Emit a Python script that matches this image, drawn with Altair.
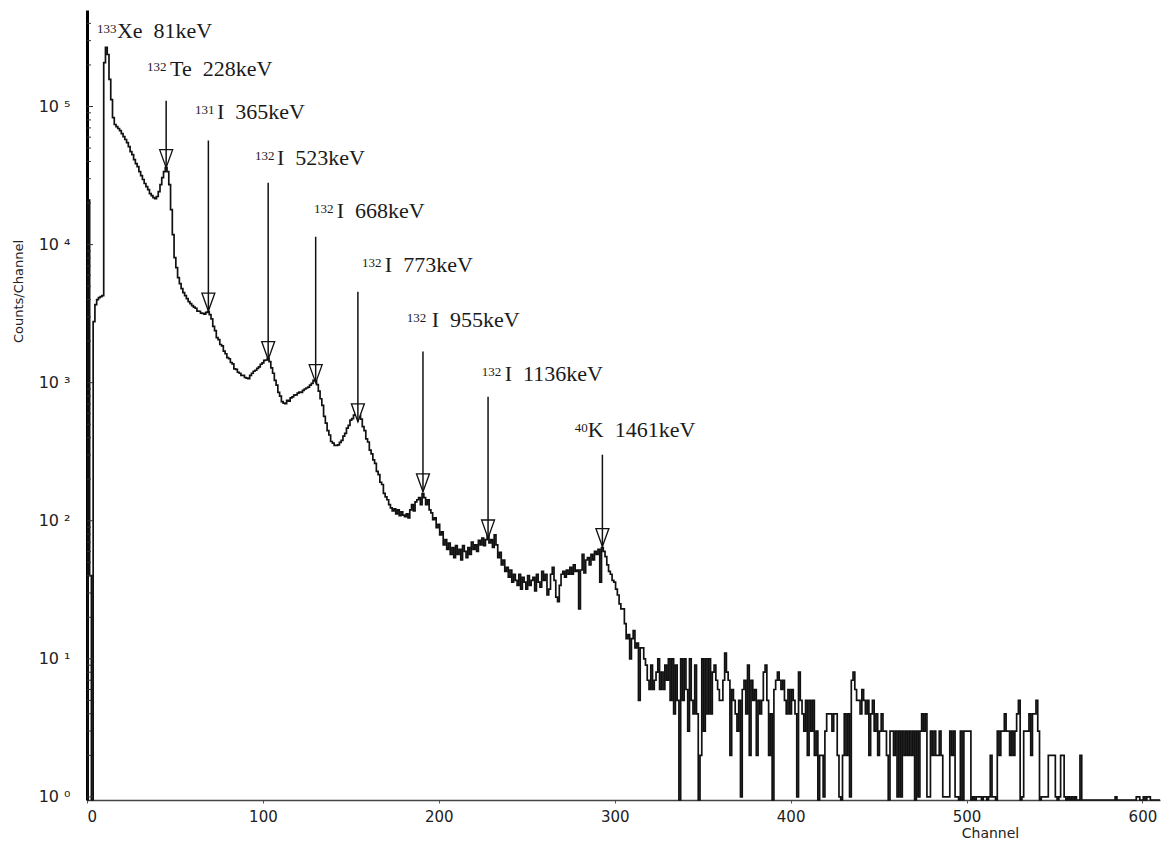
import altair as alt
import pandas as pd

# ---- spectrum counts per channel ----
counts_000 = [0, 21000, 40, 0, 2770, 3670, 3990, 4130, 4200, 4270,
              208000, 268000, 238000, 157000, 112000, 83200, 74100, 71600, 69300, 67000,
              63700, 60600, 57700, 54800, 51300, 47200, 44900, 41300, 38600, 36700,
              33800, 31600, 29600, 27700, 26300, 25000, 23400, 22600, 21900, 21500,
              22300, 24200, 27200, 30600, 33800, 36100, 33800, 27200, 17900, 11800,
              8050, 6810, 5770, 5210, 4800, 4490, 4270, 4060, 3860, 3740,
              3610, 3520, 3460, 3300, 3290, 3190, 3180, 3140, 3230, 3270,
              3110, 2900, 2560, 2380, 2120, 2050, 1890, 1850, 1690, 1620,
              1520, 1490, 1400, 1370, 1260, 1250, 1190, 1170, 1130, 1130,
              1090, 1080, 1070, 1130, 1170, 1210, 1230, 1270, 1300, 1360]
counts_100 = [1390, 1450, 1460, 1500, 1420, 1280, 1170, 1040, 960, 850,
              800, 730, 712, 705, 745, 735, 775, 790, 812, 815,
              840, 855, 850, 880, 900, 915, 930, 960, 990, 1040,
              1030, 968, 870, 765, 685, 570, 510, 450, 418, 375,
              365, 352, 351, 354, 370, 382, 410, 430, 468, 490,
              535, 550, 582, 590, 610, 580, 545, 480, 450, 392,
              372, 325, 305, 276, 260, 228, 216, 190, 183, 158,
              149, 142, 131, 124, 118, 122, 112, 120, 109, 116,
              110, 107, 112, 105, 120, 131, 118, 137, 142, 147,
              131, 157, 147, 131, 142, 120, 114, 102, 105, 89]
counts_200 = [94, 79, 83, 67, 73, 62, 69, 57, 64, 54,
              66, 57, 62, 52, 66, 60, 54, 64, 57, 70,
              62, 67, 60, 72, 67, 75, 66, 73, 78, 69,
              73, 64, 79, 67, 54, 59, 48, 52, 43, 46,
              39, 44, 36, 41, 37, 34, 41, 32, 39, 36,
              32, 40, 34, 37, 39, 31, 41, 36, 33, 43,
              37, 41, 29, 32, 41, 46, 37, 28, 26, 34,
              41, 43, 39, 44, 41, 46, 41, 48, 43, 44,
              23, 44, 57, 42, 52, 54, 48, 57, 52, 60,
              57, 62, 36, 64, 60, 55, 48, 43, 41, 37]
counts_300 = [36, 32, 29, 25, 23, 23, 18, 14, 15, 10,
              14, 16, 12, 13, 5, 12, 12, 10, 9, 7,
              6, 9, 6, 7, 8, 10, 6, 8, 6, 9,
              7, 10, 5, 10, 4, 9, 5, 0, 10, 5,
              10, 6, 3, 10, 5, 4, 9, 4, 0, 2,
              10, 3, 10, 4, 10, 4, 8, 9, 7, 6,
              5, 5, 7, 11, 8, 7, 2, 6, 5, 4,
              3, 5, 1, 6, 7, 4, 9, 2, 7, 5,
              6, 2, 5, 4, 5, 8, 9, 5, 2, 4,
              0, 6, 7, 8, 7, 6, 7, 5, 4, 6]
counts_400 = [4, 6, 5, 4, 1, 8, 5, 4, 3, 5,
              2, 5, 3, 5, 2, 3, 0, 2, 2, 1,
              3, 4, 4, 4, 3, 4, 4, 2, 1, 0,
              2, 4, 2, 4, 1, 7, 8, 6, 5, 5,
              4, 6, 5, 4, 5, 2, 4, 5, 3, 4,
              2, 3, 4, 3, 3, 2, 0, 3, 3, 2,
              3, 1, 3, 1, 3, 2, 3, 2, 3, 2,
              3, 0, 3, 1, 3, 4, 3, 4, 1, 1,
              3, 2, 3, 2, 2, 3, 2, 1, 1, 1,
              1, 3, 2, 3, 1, 1, 0, 3, 0, 3]
counts_500 = [3, 3, 3, 0, 1, 0, 1, 1, 1, 0,
              1, 1, 0, 1, 2, 1, 1, 0, 3, 2,
              3, 3, 4, 3, 3, 2, 3, 2, 3, 4,
              5, 0, 1, 3, 3, 3, 4, 2, 4, 4,
              5, 3, 0, 1, 1, 1, 1, 2, 2, 2,
              2, 1, 0, 1, 2, 2, 1, 0, 1, 0,
              1, 0, 1, 0, 0, 2, 0, 0, 0, 0,
              0, 0, 0, 0, 0, 0, 0, 0, 0, 0,
              0, 0, 0, 0, 0, 1, 0, 0, 0, 0,
              0, 0, 0, 0, 0, 0, 0, 1, 1, 0]
counts_600 = [0, 1, 0, 1, 1, 0, 0, 0, 0, 0, 0]

counts = counts_000 + counts_100 + counts_200 + counts_300 + counts_400 + counts_500 + counts_600
channels = list(range(len(counts)))

# ---- annotated peaks ----
peak_channel = [45, 69, 103, 130, 154, 191, 228, 293]
peak_counts = [36100, 3300, 1470, 1000, 521, 162, 75, 65]
arrow_top = [110000, 56700, 28100, 11400, 4560, 1680, 792, 301]

NB = "\u00a0"
label_mass = ["133", "132", "131", "132", "132", "132", "132", "132", "40"]
label_text = ["Xe" + NB + NB + "81keV", "Te" + NB + NB + "228keV", "I" + NB + NB + "365keV",
              "I" + NB + NB + "523keV", "I" + NB + NB + "668keV", "I" + NB + NB + "773keV",
              "I" + NB + NB + "955keV", "I" + NB + NB + "1136keV", "K" + NB + NB + "1461keV"]
mass_channel = [5.7, 34.1, 61.4, 95.5, 129.0, 156.3, 181.8, 224.4, 277.3]
text_channel = [17.0, 47.2, 73.9, 108.0, 142.0, 169.3, 196.0, 237.5, 284.7]
text_counts = [316000, 165000, 81800, 38000, 15700, 6370, 2550, 1020, 406]

# ---- axis tick values ----
major_ticks = [1, 10, 100, 1000, 10000, 100000]
minor_ticks = [m * d for d in [1, 10, 100, 1000, 10000, 100000] for m in range(2, 10) if m * d < 500000]

spec = pd.DataFrame({"channel": channels, "counts": counts})
spec["shown"] = spec["counts"].clip(lower=0.95)
peaks = pd.DataFrame({"channel": peak_channel, "shown": peak_counts, "top": arrow_top})
labels = pd.DataFrame({"mass": label_mass, "text": label_text, "mch": mass_channel,
                       "channel": text_channel, "shown": text_counts})
ticks = pd.DataFrame({"shown": minor_ticks})
majors = pd.DataFrame({"shown": major_ticks})

xs = alt.Scale(domain=[0, 610], nice=False, zero=False)
ys = alt.Scale(type="log", domain=[0.95, 500000], nice=False)

sup_expr = "'10 ' + ['\u2070','\u00b9','\u00b2','\u00b3','\u2074','\u2075'][round(log(datum.value)/LN10)]"

x_axis = alt.Axis(values=[0, 100, 200, 300, 400, 500, 600], title="Channel", grid=False,
                  domainColor="#444444", domainWidth=1.5, tickColor="#555555", tickSize=3,
                  labelFont="DejaVu Sans", labelFontSize=15, labelColor="#222222",
                  labelPadding=6, titleFont="DejaVu Sans", titleFontSize=14,
                  titleFontWeight="normal", titleColor="#222222",
                  titleX=903, titleY=37, titleAlign="center", titleBaseline="alphabetic")
y_axis = alt.Axis(values=major_ticks, labelExpr=sup_expr, title="Counts/Channel", grid=False,
                  ticks=False, labelPadding=17, domainColor="#000000", domainWidth=3,
                  labelFont="DejaVu Sans", labelFontSize=16, labelColor="#222222",
                  titleFont="DejaVu Sans", titleFontSize=13, titleFontWeight="normal",
                  titleColor="#222222", titleAngle=270, titleX=-69, titleY=281,
                  titleAlign="center", titleBaseline="middle")

X = alt.X("channel:Q", scale=xs, axis=x_axis, title="Channel")
Y = alt.Y("shown:Q", scale=ys, axis=y_axis, title="Counts/Channel")

spectrum = alt.Chart(spec).mark_line(color="#111111", strokeWidth=1.7, interpolate="step").encode(
    x=X, y=Y)

minor_rules = alt.Chart(ticks).mark_rule(color="#333333", strokeWidth=1).encode(
    x=alt.value(0), x2=alt.value(4), y=Y)
major_rules = alt.Chart(majors).mark_rule(color="#333333", strokeWidth=1).encode(
    x=alt.value(0), x2=alt.value(6), y=Y)

tri = alt.Chart(peaks).mark_point(shape="M-0.72,-2L0.72,-2L0,0Z", size=324, filled=True,
                                  fill="white", stroke="#111111", strokeWidth=1.3, opacity=1).encode(
    x=X, y=Y)

shafts = alt.Chart(peaks).mark_rule(color="#111111", strokeWidth=1.5).encode(
    x=X, y=alt.Y("top:Q", scale=ys, axis=y_axis, title="Counts/Channel"), y2="shown:Q")

mass_txt = alt.Chart(labels).mark_text(align="left", baseline="alphabetic", dy=-5,
                                       font="Liberation Serif", fontSize=13, color="#1a1a1a").encode(
    x=alt.X("mch:Q", scale=xs, axis=x_axis, title="Channel"), y=Y, text="mass:N")

main_txt = alt.Chart(labels).mark_text(align="left", baseline="alphabetic",
                                       font="Liberation Serif", fontSize=22, color="#1a1a1a").encode(
    x=X, y=Y, text="text:N")

chart = alt.layer(spectrum, minor_rules, major_rules, tri, shafts, mass_txt, main_txt).properties(
    width=1073, height=790,
    padding={"left": 87, "top": 10, "right": 1, "bottom": 41},
    autosize=alt.AutoSizeParams(type="none"),
    background="white",
).configure_view(stroke=None)

chart.save("out.html", embed_options={"renderer": "svg", "actions": False})
